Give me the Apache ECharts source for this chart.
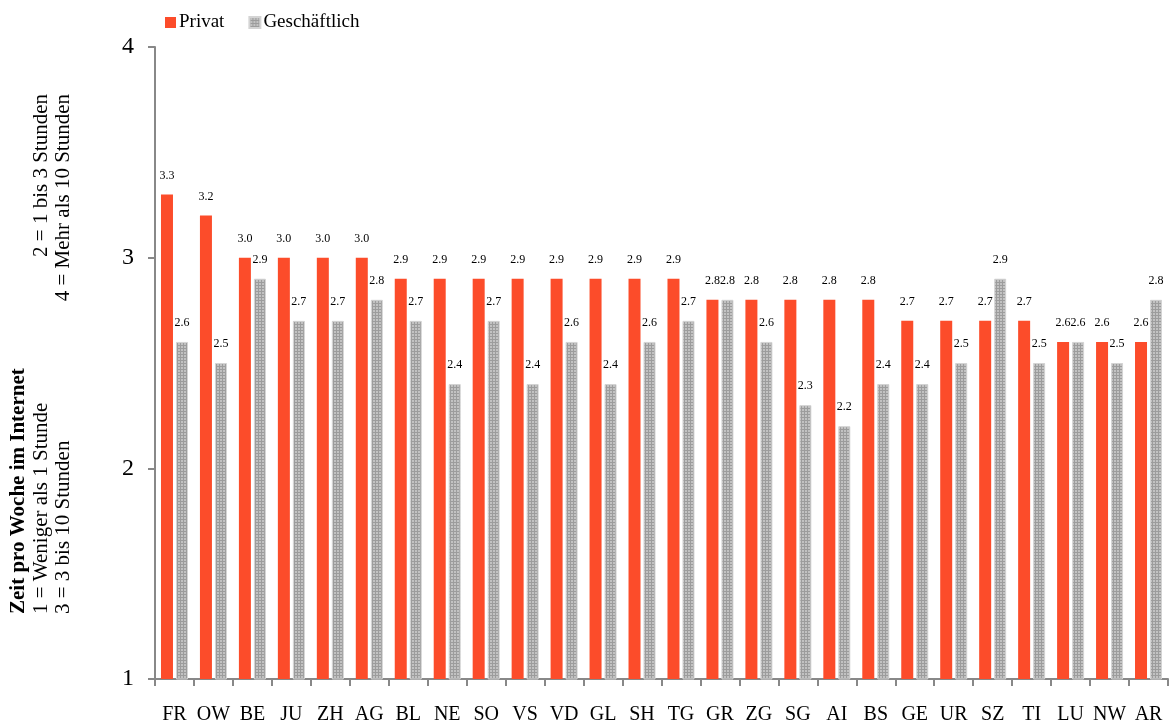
<!DOCTYPE html>
<html>
<head>
<meta charset="utf-8">
<script src="https://cdn.jsdelivr.net/npm/echarts@6/dist/echarts.min.js"></script>
<style>
  html, body { margin: 0; padding: 0; background: #fff; }
  #chart { width: 1170px; height: 726px; }
</style>
</head>
<body>
<div id="chart"></div>
<script>
// Kantone
const categories = ['FR','OW','BE','JU','ZH','AG','BL','NE','SO','VS','VD','GL','SH','TG','GR','ZG','SG','AI','BS','GE','UR','SZ','TI','LU','NW','AR'];
// Durchschnittliche Zeit pro Woche im Internet (Skala 1–4)
const privat = [3.3,3.2,3.0,3.0,3.0,3.0,2.9,2.9,2.9,2.9,2.9,2.9,2.9,2.9,2.8,2.8,2.8,2.8,2.8,2.7,2.7,2.7,2.7,2.6,2.6,2.6];
const geschaeftlich = [2.6,2.5,2.9,2.7,2.7,2.8,2.7,2.4,2.7,2.4,2.6,2.4,2.6,2.7,2.8,2.6,2.3,2.2,2.4,2.4,2.5,2.9,2.5,2.6,2.5,2.8];
const yTicks = [1, 2, 3, 4];

const FONT = '"Liberation Serif", "Times New Roman", serif';

// fine grey grid texture for the business bars
function greyPattern() {
  const c = document.createElement('canvas');
  c.width = 3; c.height = 3;
  const g = c.getContext('2d');
  g.fillStyle = '#c2c2c2';
  g.fillRect(0, 0, 3, 3);
  g.fillStyle = '#9c9c9c';
  g.fillRect(0, 0, 3, 1);
  g.fillRect(0, 0, 1, 3);
  return c;
}
const pattern = { image: greyPattern(), repeat: 'repeat' };

const chart = echarts.init(document.getElementById('chart'), null, { renderer: 'canvas' });

const labelCfg = {
  show: true,
  position: 'top',
  distance: 13,
  fontFamily: FONT,
  fontSize: 12,
  color: '#000',
  formatter: p => p.value.toFixed(1)
};

chart.setOption({
  animation: false,
  backgroundColor: '#fff',
  textStyle: { fontFamily: FONT },
  legend: {
    left: 160,
    top: 8,
    itemWidth: 11,
    itemHeight: 11,
    itemGap: 24,
    icon: 'rect',
    textStyle: { fontFamily: FONT, fontSize: 19, color: '#000', padding: [0, 0, 0, -2] },
    data: ['Privat', 'Geschäftlich']
  },
  grid: { left: 155, right: 2, top: 47, bottom: 47, containLabel: false },
  xAxis: {
    type: 'category',
    data: categories,
    axisLine: { lineStyle: { color: '#888', width: 2 } },
    axisTick: { show: true, alignWithLabel: false, length: 7, lineStyle: { color: '#888', width: 2 } },
    axisLabel: { fontFamily: FONT, fontSize: 20, color: '#000', margin: 26, interval: 0 }
  },
  yAxis: {
    type: 'value',
    min: 1,
    max: 4,
    interval: 1,
    axisLine: { show: true, lineStyle: { color: '#888', width: 2 } },
    axisTick: { show: true, length: 7, lineStyle: { color: '#888', width: 2 } },
    splitLine: { show: false },
    axisLabel: {
      fontFamily: FONT, fontSize: 24, color: '#000', margin: 21,
      formatter: v => (yTicks.indexOf(v) >= 0 ? String(v) : '')
    }
  },
  series: [
    {
      name: 'Privat',
      type: 'bar',
      data: privat,
      barWidth: 12,
      barGap: '25%',
      itemStyle: { color: '#fc4c2a' },
      label: labelCfg
    },
    {
      name: 'Geschäftlich',
      type: 'bar',
      data: geschaeftlich,
      barWidth: 12,
      itemStyle: { color: pattern, borderColor: '#d4d4d4', borderWidth: 1 },
      label: labelCfg
    }
  ],
  graphic: [
    { type: 'text', x: 19, y: 614, rotation: Math.PI / 2,
      style: { text: 'Zeit pro Woche im Internet', font: 'bold 21px ' + FONT, fill: '#000', align: 'left', verticalAlign: 'middle' } },
    { type: 'text', x: 41, y: 614, rotation: Math.PI / 2,
      style: { text: '1 = Weniger als 1 Stunde', font: '21px ' + FONT, fill: '#000', align: 'left', verticalAlign: 'middle' } },
    { type: 'text', x: 63, y: 614, rotation: Math.PI / 2,
      style: { text: '3 = 3 bis 10 Stunden', font: '21px ' + FONT, fill: '#000', align: 'left', verticalAlign: 'middle' } },
    { type: 'text', x: 41, y: 94, rotation: Math.PI / 2,
      style: { text: '2 = 1 bis 3 Stunden', font: '21px ' + FONT, fill: '#000', align: 'right', verticalAlign: 'middle' } },
    { type: 'text', x: 63, y: 94, rotation: Math.PI / 2,
      style: { text: '4 = Mehr als 10 Stunden', font: '21px ' + FONT, fill: '#000', align: 'right', verticalAlign: 'middle' } }
  ]
});
</script>
</body>
</html>
